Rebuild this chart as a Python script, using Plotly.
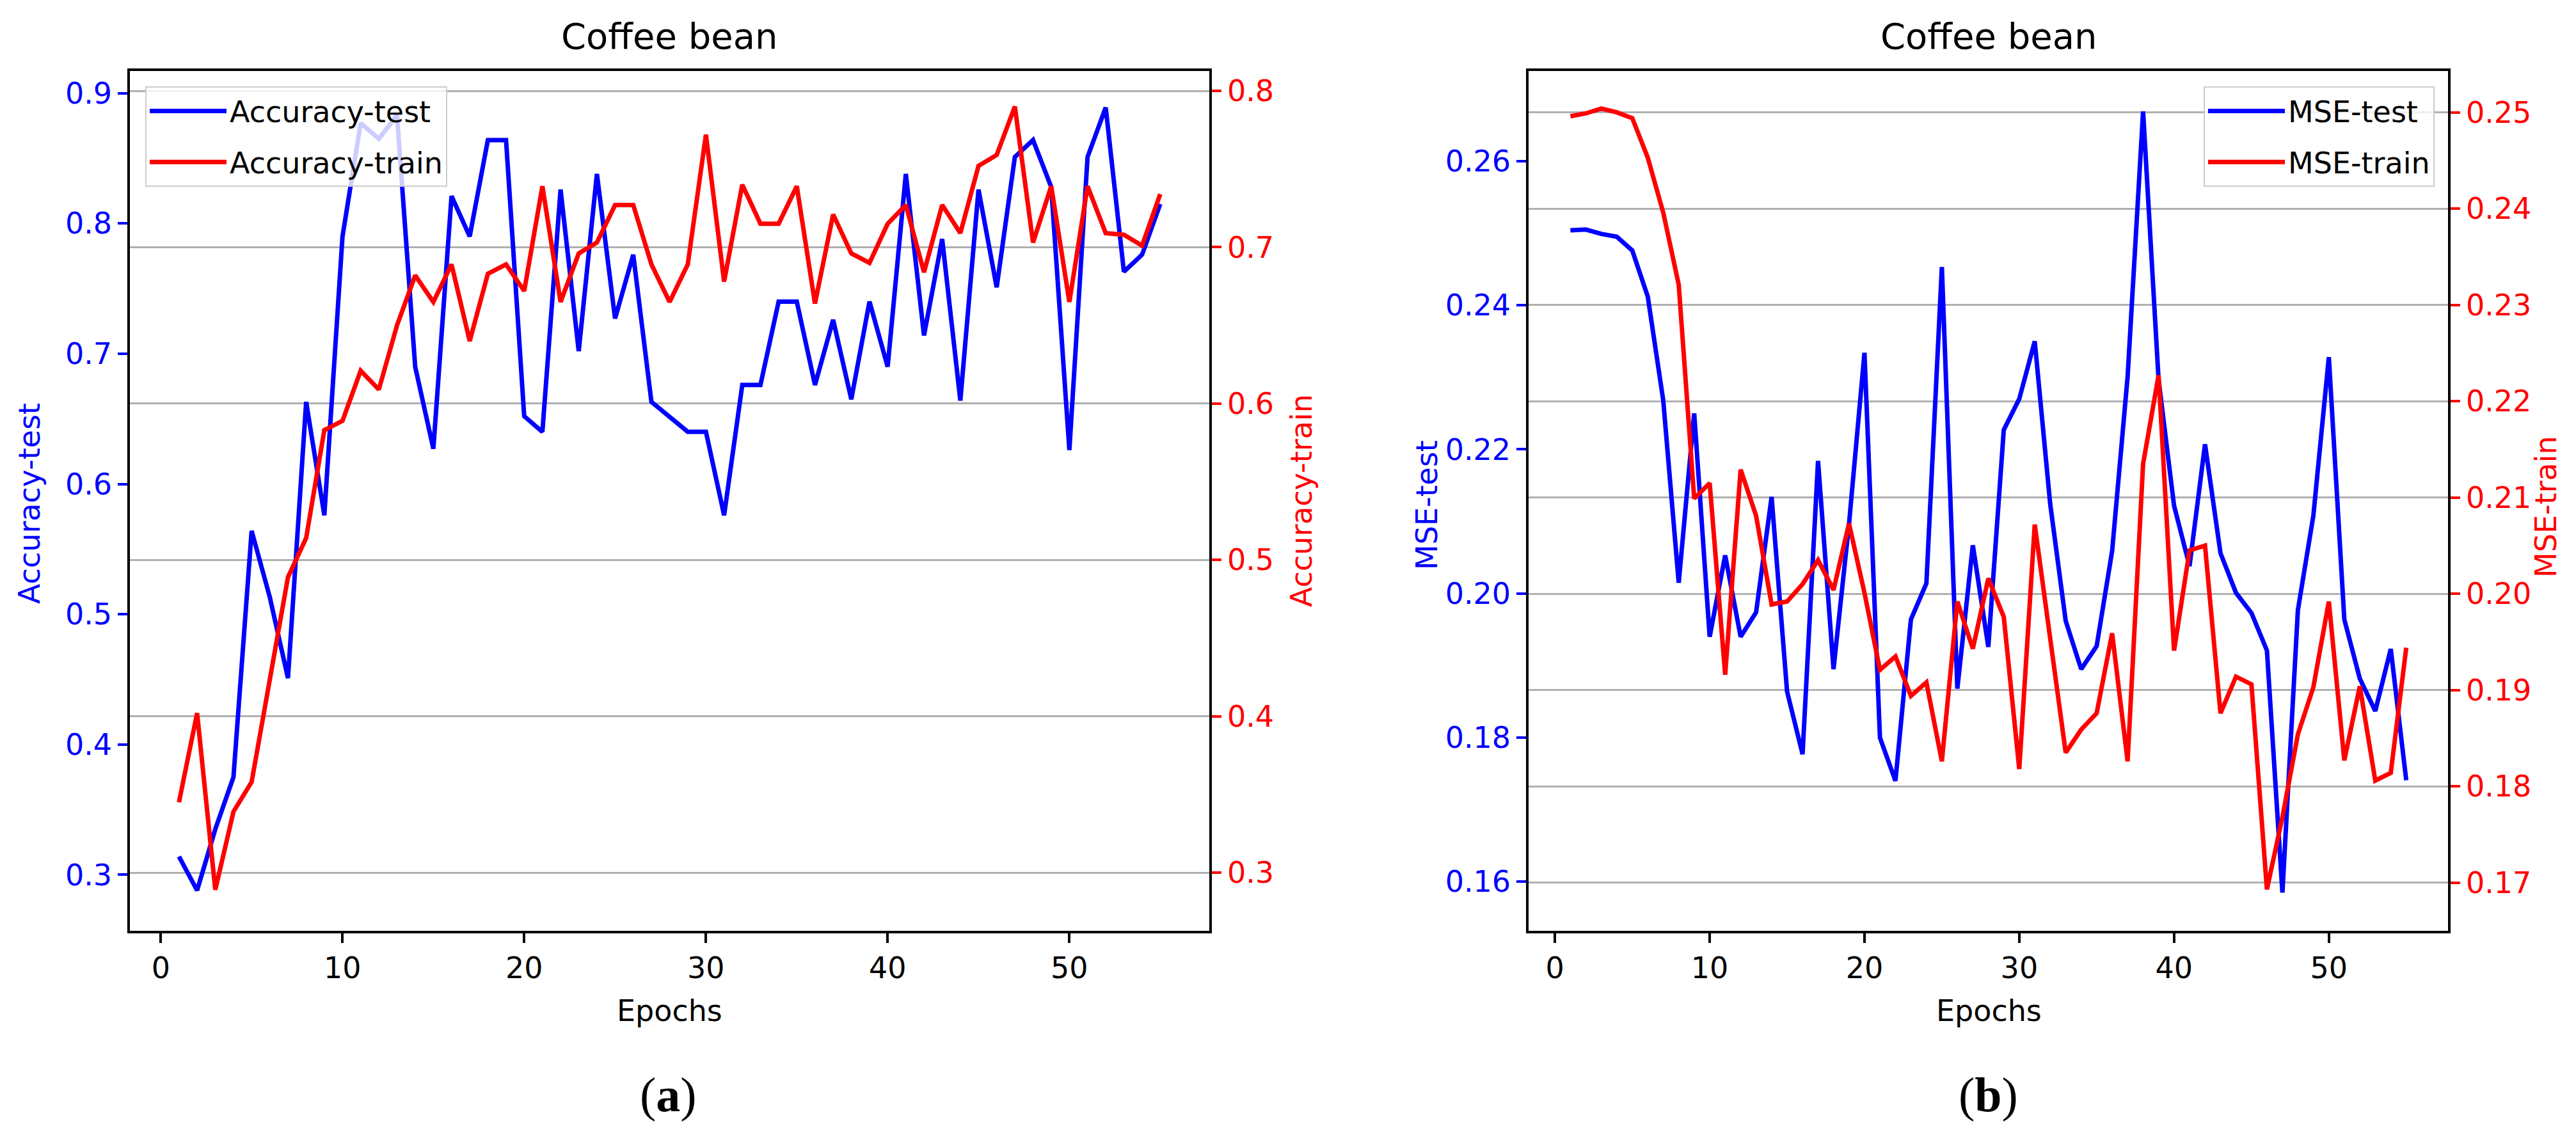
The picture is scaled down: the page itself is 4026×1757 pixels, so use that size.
import plotly.graph_objects as go

W, H = 4026, 1757

epochs = list(range(1, 56))

acc_test = [0.314, 0.288, 0.335, 0.375, 0.564, 0.513, 0.451, 0.663, 0.576, 0.790,
            0.877, 0.865, 0.883, 0.690, 0.627, 0.821, 0.790, 0.864, 0.864, 0.652,
            0.640, 0.826, 0.702, 0.838, 0.727, 0.776, 0.663, 0.651, 0.640, 0.640,
            0.576, 0.676, 0.676, 0.740, 0.740, 0.676, 0.726, 0.665, 0.740, 0.690,
            0.838, 0.714, 0.788, 0.664, 0.826, 0.751, 0.851, 0.864, 0.828, 0.626,
            0.851, 0.889, 0.763, 0.776, 0.815]

acc_train = [0.345, 0.402, 0.289, 0.339, 0.358, 0.424, 0.489, 0.514, 0.583, 0.589,
             0.621, 0.609, 0.650, 0.682, 0.665, 0.689, 0.640, 0.683, 0.689, 0.672,
             0.739, 0.665, 0.696, 0.703, 0.727, 0.727, 0.689, 0.665, 0.689, 0.772,
             0.678, 0.740, 0.715, 0.715, 0.739, 0.664, 0.721, 0.696, 0.690, 0.715,
             0.727, 0.684, 0.727, 0.709, 0.752, 0.759, 0.790, 0.703, 0.739, 0.665,
             0.739, 0.709, 0.708, 0.701, 0.734]

mse_test = [0.2504, 0.2505, 0.2499, 0.2495, 0.2476, 0.2412, 0.2268, 0.2015, 0.2250, 0.1940,
            0.2053, 0.1940, 0.1974, 0.2134, 0.1864, 0.1777, 0.2184, 0.1895, 0.2096, 0.2334,
            0.1800, 0.1740, 0.1964, 0.2014, 0.2453, 0.1868, 0.2067, 0.1926, 0.2227, 0.2270,
            0.2350, 0.2124, 0.1962, 0.1895, 0.1927, 0.2059, 0.2301, 0.2669, 0.2297, 0.2122,
            0.2038, 0.2207, 0.2056, 0.2001, 0.1973, 0.1921, 0.1585, 0.1977, 0.2108, 0.2328,
            0.1964, 0.1882, 0.1837, 0.1923, 0.1741]

mse_train = [0.2496, 0.2499, 0.2504, 0.2500, 0.2494, 0.2453, 0.2396, 0.2321, 0.2099, 0.2115,
             0.1916, 0.2129, 0.2081, 0.1989, 0.1992, 0.2010, 0.2035, 0.2004, 0.2073, 0.2001,
             0.1921, 0.1935, 0.1894, 0.1908, 0.1826, 0.1992, 0.1943, 0.2016, 0.1976, 0.1818,
             0.2072, 0.1955, 0.1835, 0.1859, 0.1876, 0.1959, 0.1826, 0.2135, 0.2227, 0.1941,
             0.2045, 0.2050, 0.1876, 0.1914, 0.1906, 0.1693, 0.1768, 0.1854, 0.1903, 0.1992,
             0.1827, 0.1904, 0.1806, 0.1814, 0.1944]

x_ticks = [0, 10, 20, 30, 40, 50]

BLUE = "#0000ff"
RED = "#ff0000"
FONT = "DejaVu Sans"
FS = 46
LW = 7

fig = go.Figure()
fig.add_trace(go.Scatter(x=epochs, y=acc_test, mode="lines", name="Accuracy-test",
                         line=dict(color=BLUE, width=LW), xaxis="x", yaxis="y",
                         legend="legend", legendgroup="a1"))
fig.add_trace(go.Scatter(x=epochs, y=acc_train, mode="lines", name="Accuracy-train",
                         line=dict(color=RED, width=LW), xaxis="x", yaxis="y2",
                         legend="legend", legendgroup="a2"))
fig.add_trace(go.Scatter(x=epochs, y=mse_test, mode="lines", name="MSE-test",
                         line=dict(color=BLUE, width=LW), xaxis="x2", yaxis="y3",
                         legend="legend2", legendgroup="b1"))
fig.add_trace(go.Scatter(x=epochs, y=mse_train, mode="lines", name="MSE-train",
                         line=dict(color=RED, width=LW), xaxis="x2", yaxis="y4",
                         legend="legend2", legendgroup="b2"))

ydom = [1 - 1447 / H, 1 - 103 / H]
xdom1 = [195 / W, 1882 / W]
xdom2 = [2381 / W, 3818 / W]

def xax(dom, anchor):
    return dict(domain=dom, anchor=anchor, range=[-1.7, 57.7], tickvals=x_ticks,
                ticks="outside", ticklen=15, tickwidth=3.5, tickcolor="black",
                tickfont=dict(size=FS, color="black", family=FONT),
                showline=True, linecolor="black", linewidth=3.5, mirror=True,
                showgrid=False, zeroline=False)

def yax(anchor, rng, dtick, fmt, color, side="left", overlay=None, grid=False):
    d = dict(domain=ydom, anchor=anchor, range=rng, dtick=dtick, tick0=0, tickformat=fmt,
             ticks="outside", ticklen=15, tickwidth=3.5, tickcolor=color,
             tickfont=dict(size=FS, color=color, family=FONT), side=side,
             showline=True, linecolor="black", linewidth=3.5,
             showgrid=grid, gridcolor="#b0b0b0", gridwidth=3, zeroline=False)
    if overlay:
        d["overlaying"] = overlay
    return d

legend_style = dict(yanchor="top", bgcolor="rgba(255,255,255,0.8)", bordercolor="#cccccc",
                    borderwidth=2, font=dict(size=FS, color="black", family=FONT),
                    itemwidth=120, tracegroupgap=17)

fig.update_layout(
    width=W, height=H,
    margin=dict(l=0, r=0, t=0, b=0),
    paper_bgcolor="white", plot_bgcolor="white",
    font=dict(family=FONT, size=FS, color="black"),
    xaxis=xax(xdom1, "y"),
    yaxis=yax("x", [0.257, 0.917], 0.1, ".1f", BLUE),
    yaxis2=yax("x", [0.2628, 0.8127], 0.1, ".1f", RED, side="right", overlay="y", grid=True),
    xaxis2=xax(xdom2, "y3"),
    yaxis3=yax("x2", [0.1532, 0.2725], 0.02, ".2f", BLUE),
    yaxis4=yax("x2", [0.1650, 0.2543], 0.01, ".2f", RED, side="right", overlay="y3", grid=True),
    legend=dict(x=219 / W, y=1 - 127 / H, xanchor="left", **legend_style),
    legend2=dict(x=3797 / W, y=1 - 127 / H, xanchor="right", **legend_style),
)

def ann(text, x, y, size=FS, color="black", angle=0, family=FONT):
    fig.add_annotation(text=text, x=x / W, y=1 - y / H, xref="paper", yref="paper",
                       showarrow=False, textangle=angle, xanchor="center", yanchor="middle",
                       font=dict(size=size, color=color, family=family))

ann("Coffee bean", 1038, 48, size=56)
ann("Coffee bean", 3100, 48, size=56)
ann("Epochs", 1038, 1572)
ann("Epochs", 3100, 1572)
ann("Accuracy-test", 38, 779, color=BLUE, angle=-90)
ann("Accuracy-train", 2026, 775, color=RED, angle=-90)
ann("MSE-test", 2222, 782, color=BLUE, angle=-90)
ann("MSE-train", 3971, 784, color=RED, angle=-90)
ann("(<b>a</b>)", 1036, 1703, size=76, family="Liberation Serif")
ann("(<b>b</b>)", 3099, 1703, size=76, family="Liberation Serif")

fig.write_html("out.html")
